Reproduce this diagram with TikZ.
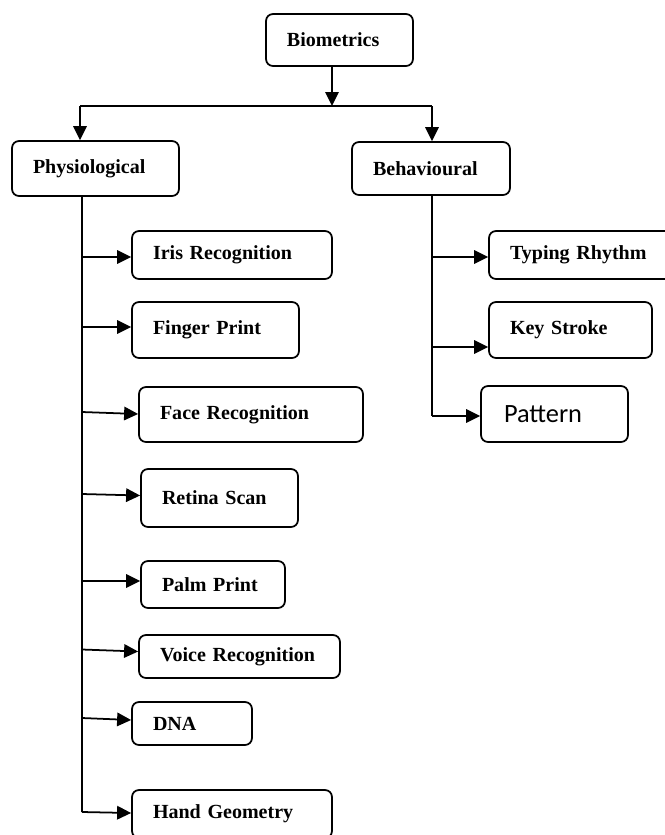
\documentclass[tikz,border=0pt]{standalone}
\usepackage{fontspec}
\setmainfont{Liberation Serif}
\newfontfamily\calibri{Carlito}
\usepackage{tikz}
\usetikzlibrary{arrows.meta}
\usetikzlibrary{calc,positioning}

\begin{document}
\begin{tikzpicture}[line width=1pt,
		box/.style={draw, rounded corners=4pt, inner xsep=0.42cm, inner ysep=0pt, align=left, font=\bfseries\fontsize{11.4}{13}\selectfont},
		arr/.style={-{Triangle[length=0.28cm,width=0.27cm]}}
		]
		\useasboundingbox (0,0) rectangle (13.3,-16.7);
		\clip (0,0) rectangle (13.3,-16.7);
		
		\node [box, text width=2.10cm, minimum height=1.04cm] (bio) at (6.79,-0.80) {Biometrics};
		\node [box, text width=2.50cm, minimum height=1.10cm] (phys) at (1.91,-3.37) {Physiological};
		\node [box, text width=2.32cm, minimum height=1.06cm] (beh) at (8.62,-3.37) {Behavioural};
		
		\node [box, text width=3.16cm, minimum height=0.96cm] (iris) at (4.64,-5.10) {Iris Recognition};
		\node [box, text width=2.50cm, minimum height=1.12cm] (finger) at (4.31,-6.60) {Finger Print};
		\node [box, text width=3.64cm, minimum height=1.10cm] (face) at (5.02,-8.29) {Face Recognition};
		\node [box, text width=2.30cm, minimum height=1.16cm] (retina) at (4.39,-9.96) {Retina Scan};
		\node [box, text width=2.04cm, minimum height=0.94cm] (palm) at (4.26,-11.69) {Palm Print};
		\node [box, text width=3.18cm, minimum height=0.86cm] (voice) at (4.79,-13.13) {Voice Recognition};
		\node [box, text width=1.56cm, minimum height=0.86cm] (dna) at (3.84,-14.47) {DNA};
		\node [box, text width=3.16cm, minimum height=0.96cm] (hand) at (4.64,-16.28) {Hand Geometry};
		
		\node [box, text width=3.16cm, minimum height=0.96cm] (typing) at (11.78,-5.10) {Typing Rhythm};
		\node [box, text width=2.42cm, minimum height=1.12cm] (key) at (11.41,-6.60) {Key Stroke};
		\node [box, text width=2.02cm, minimum height=1.12cm, inner xsep=0.46cm, font=\calibri\fontsize{15}{17}\selectfont] (pattern) at (11.09,-8.28) {Pattern};
		
		% top split
		\coordinate (split) at (6.64,-2.12);
		\coordinate (lsplit) at (1.60,-2.12);
		\coordinate (rsplit) at (8.64,-2.12);
		\draw [arr] (bio.south -| split) -- (split);
		\draw (lsplit) -- (rsplit);
		\draw [arr] (lsplit) -- (lsplit |- phys.north);
		\draw [arr] (rsplit) -- (rsplit |- beh.north);
		
		% physiological branch
		\coordinate (ptop) at (1.64,-3.92);
		\coordinate (pend) at (1.64,-16.24);
		\draw (ptop) -- (pend);
		\draw [arr] (ptop |- 0,-5.14) -- (iris.west |- 0,-5.14);
		\draw [arr] (ptop |- 0,-6.54) -- (finger.west |- 0,-6.54);
		\draw [arr] (ptop |- 0,-8.24) -- (face.west |- 0,-8.28);
		\draw [arr] (ptop |- 0,-9.88) -- (retina.west |- 0,-9.91);
		\draw [arr] (ptop |- 0,-11.62) -- (palm.west |- 0,-11.62);
		\draw [arr] (ptop |- 0,-12.99) -- (voice.west |- 0,-13.03);
		\draw [arr] (ptop |- 0,-14.36) -- (dna.west |- 0,-14.40);
		\draw [arr] (pend) -- (hand.west |- 0,-16.26);
		
		% behavioural branch
		\coordinate (btop) at (8.64,-3.90);
		\coordinate (bend) at (8.64,-8.32);
		\draw (btop) -- (bend);
		\draw [arr] (btop |- 0,-5.14) -- (typing.west |- 0,-5.14);
		\draw [arr] (btop |- 0,-6.94) -- (key.west |- 0,-6.94);
		\draw [arr] (bend) -- (pattern.west |- bend);
\end{tikzpicture}
\end{document}
